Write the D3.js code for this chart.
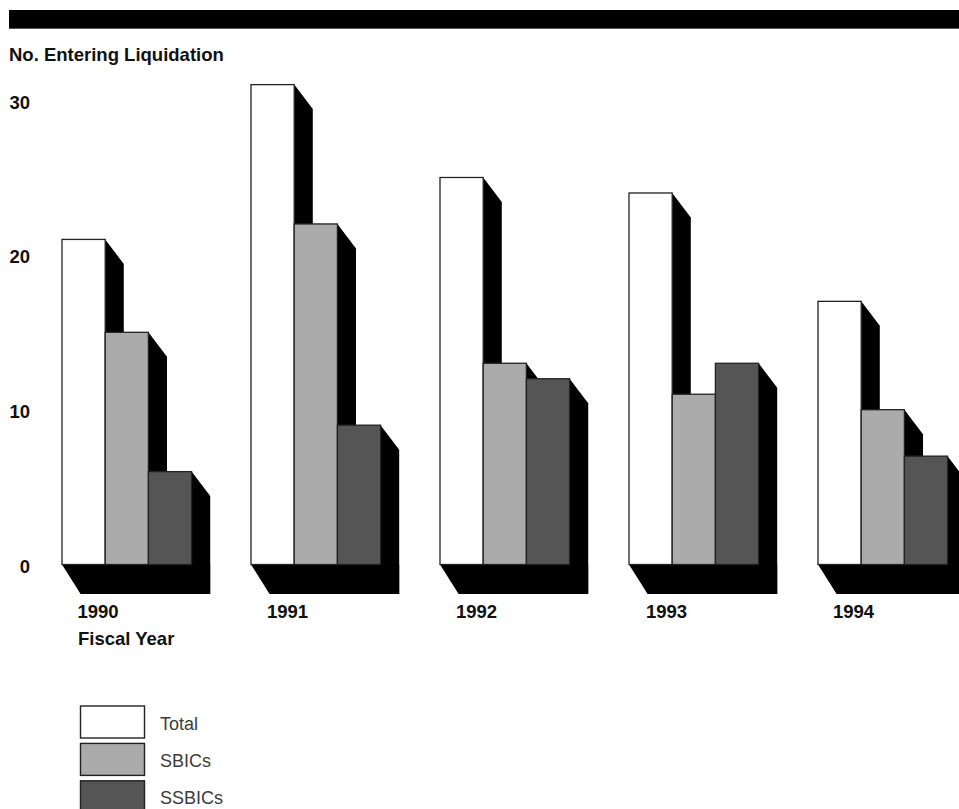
<!DOCTYPE html>
<html><head><meta charset="utf-8">
<script src="https://cdnjs.cloudflare.com/ajax/libs/d3/7.8.5/d3.min.js"></script>
<style>html,body{margin:0;padding:0;background:#fff}svg{display:block}
text{font-family:"Liberation Sans",Arial,sans-serif}
.b{font-weight:700;font-size:18.5px;fill:#111}
.l{font-size:18px;fill:#3c3c3c}</style></head><body>
<svg id="c" width="959" height="809"></svg>
<script>
const years=["1990","1991","1992","1993","1994"];
const seriesNames=["Total","SBICs","SSBICs"];
const total=[21,31,25,24,17];
const sbics=[15,22,13,11,10];
const ssbics=[6,9,12,13,7];
const yTicks=[0,10,20,30];
const colors=["#ffffff","#ababab","#555555"];

const svg=d3.select("#c");
const W=189, barW=43.2, baseY=564.5, unit=15.48, depthX=18.6, depthTop=24.5, depthBase=29.5;
const x0=d3.scaleBand().domain(years).range([62,62+W*5]).paddingInner(0).paddingOuter(0).align(0);
const x1=d3.scaleBand().domain(seriesNames).range([0,barW*3]);
const y=d3.scaleLinear().domain([0,30]).range([baseY,baseY-unit*30]);
const series=[total,sbics,ssbics];
const data=years.map((yr,i)=>({yr,vals:seriesNames.map((s,k)=>({s,k,v:series[k][i]}))}));

svg.append("rect").attr("x",9).attr("y",10).attr("width",950).attr("height",18).attr("fill","#000");
svg.append("rect").attr("x",9).attr("y",28).attr("width",950).attr("height",1).attr("fill","#555");
svg.append("text").attr("class","b").attr("x",9).attr("y",61).text("No. Entering Liquidation");

svg.selectAll("text.t").data(yTicks).join("text").attr("class","b t")
  .attr("text-anchor","end").attr("x",30).attr("y",d=>y(d)+8.5).text(d=>d);

const g=svg.selectAll("g.g").data(data).join("g").attr("class","g")
  .attr("transform",d=>`translate(${x0(d.yr)},0)`);
// floor shadow
g.append("path").attr("fill","#000").attr("d",()=>{
  const r=barW*3;
  return d3.line()([[0,baseY],[depthX,baseY+depthBase],[r+depthX,baseY+depthBase],[r+depthX,baseY],[r,baseY]])+"Z";
});
// side shadows
g.selectAll("path.s").data(d=>d.vals).join("path").attr("class","s").attr("fill","#000")
  .attr("d",d=>{
    const r=x1(d.s)+x1.bandwidth(), t=y(d.v);
    return d3.line()([[r,t],[r+depthX,t+depthTop],[r+depthX,baseY+depthBase],[r,baseY+depthBase]])+"Z";
  });
// faces
g.selectAll("rect.f").data(d=>d.vals).join("rect").attr("class","f")
  .attr("x",d=>x1(d.s)).attr("y",d=>y(d.v))
  .attr("width",x1.bandwidth()).attr("height",d=>baseY-y(d.v))
  .attr("fill",d=>colors[d.k]).attr("stroke","#222").attr("stroke-width",1.3);

const yearX=[77.5,267,456,646,833];
svg.selectAll("text.y").data(years).join("text").attr("class","b y")
  .attr("x",(d,i)=>yearX[i]).attr("y",618).text(d=>d);
svg.append("text").attr("class","b").attr("x",78).attr("y",645).text("Fiscal Year");

const leg=svg.selectAll("g.k").data(seriesNames).join("g").attr("class","k")
  .attr("transform",(d,i)=>`translate(80.5,${706+i*37.4})`);
leg.append("rect").attr("width",64).attr("height",32)
  .attr("fill",(d,i)=>colors[i]).attr("stroke","#222").attr("stroke-width",1.4);
leg.append("text").attr("class","l").attr("x",79.5).attr("y",23.5).text(d=>d);
</script></body></html>
